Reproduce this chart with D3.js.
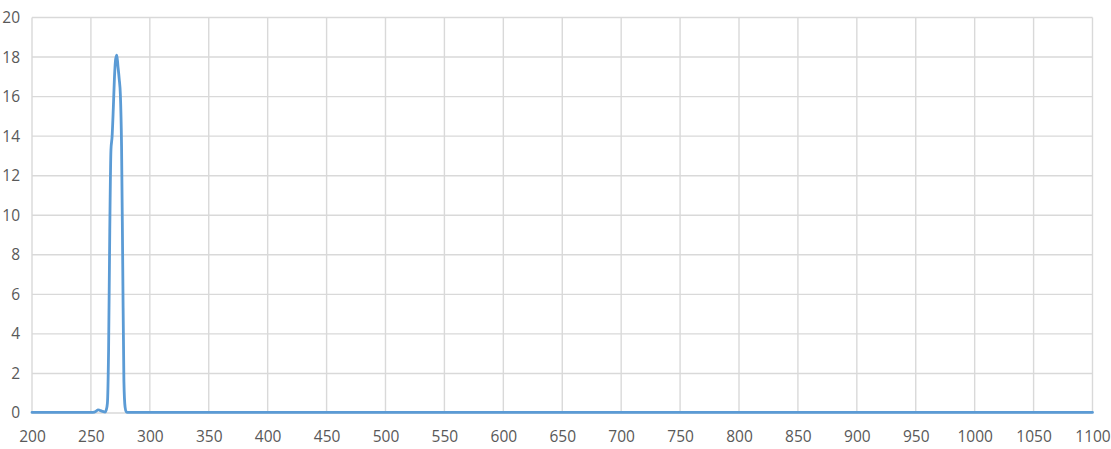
<!DOCTYPE html>
<html>
<head>
<meta charset="utf-8">
<script src="https://cdn.jsdelivr.net/npm/d3@7"></script>
<style>
  body { margin: 0; background: #fff; }
  text { font-family: "Open Sans", "Liberation Sans", Arial, sans-serif; }
</style>
</head>
<body>
<div id="chart"></div>
<script>
// wavelength (nm) and intensity
const wavelengths = [200, 250, 253, 255, 256, 257, 258, 260, 262, 263, 264, 265, 266, 267, 268, 269, 270, 271, 272, 273, 274, 275, 276, 277, 278, 279, 280, 281, 1100];
const intensity   = [0.03, 0.03, 0.05, 0.12, 0.16, 0.15, 0.12, 0.08, 0.05, 0.15, 0.5, 3.2, 9.2, 13.3, 14.0, 15.4, 17.0, 17.9, 18.1, 17.5, 16.9, 16.1, 13.5, 7.5, 1.6, 0.3, 0.06, 0.03, 0.03];

const xTicks = d3.range(200, 1101, 50);
const yTicks = d3.range(0, 21, 2);

const W = 1111, H = 449;
const margin = { top: 17.5, right: 18.5, bottom: 36, left: 32 };
const width = W - margin.left - margin.right;
const height = H - margin.top - margin.bottom;

const svg = d3.select("#chart")
  .append("svg")
  .attr("width", W)
  .attr("height", H)
  .append("g")
  .attr("transform", `translate(${margin.left},${margin.top})`);

const x = d3.scaleLinear().domain([200, 1100]).range([0, width]);
const y = d3.scaleLinear().domain([0, 20]).range([height, 0]);

// gridlines
svg.append("g")
  .selectAll("line")
  .data(yTicks)
  .enter()
  .append("line")
  .attr("x1", 0)
  .attr("x2", width)
  .attr("y1", (d) => y(d))
  .attr("y2", (d) => y(d))
  .attr("stroke", "#d9d9d9")
  .attr("stroke-width", 1.4);

svg.append("g")
  .selectAll("line")
  .data(xTicks)
  .enter()
  .append("line")
  .attr("x1", (d) => x(d))
  .attr("x2", (d) => x(d))
  .attr("y1", 0)
  .attr("y2", height)
  .attr("stroke", "#d9d9d9")
  .attr("stroke-width", 1.4);

// axes, labels only
const xAxis = svg.append("g")
  .attr("transform", `translate(0,${height})`)
  .call(d3.axisBottom(x).tickValues(xTicks).tickSize(0).tickPadding(18).tickFormat(d3.format("d")));
xAxis.select(".domain").remove();

const yAxis = svg.append("g")
  .call(d3.axisLeft(y).tickValues(yTicks).tickSize(0).tickPadding(12));
yAxis.select(".domain").remove();

svg.selectAll(".tick text")
  .attr("fill", "#595959")
  .style("font-size", "15.5px");

// data line
const line = d3.line()
  .x((d, i) => x(wavelengths[i]))
  .y((d) => y(d))
  .curve(d3.curveMonotoneX);

svg.append("path")
  .datum(intensity)
  .attr("fill", "none")
  .attr("stroke", "#5b9bd5")
  .attr("stroke-width", 2.8)
  .attr("stroke-linejoin", "round")
  .attr("stroke-linecap", "round")
  .attr("d", line);
</script>
</body>
</html>
